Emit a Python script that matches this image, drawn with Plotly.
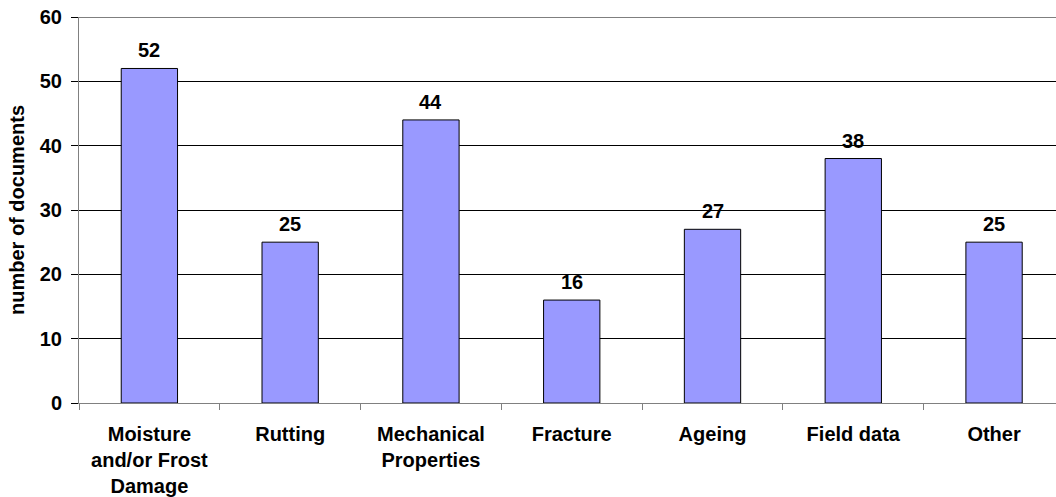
import plotly.graph_objects as go

# categories and counts
categories = ["Moisture<br>and/or Frost<br>Damage", "Rutting", "Mechanical<br>Properties",
              "Fracture", "Ageing", "Field data", "Other"]
counts = [52, 25, 44, 16, 27, 38, 25]
y_ticks = [0, 10, 20, 30, 40, 50, 60]

font_bold = dict(family="Liberation Sans, Arial", size=20, color="black")

fig = go.Figure()
fig.add_trace(go.Bar(
    x=categories, y=counts,
    marker=dict(color="#9999FF", line=dict(color="black", width=1)),
    width=0.4,
))

# value labels above bars
for c, v in zip(categories, counts):
    fig.add_annotation(x=c, y=v, text="<b>%d</b>" % v, showarrow=False,
                       yanchor="bottom", yshift=5, font=font_bold)

# top gridline (plotly skips the grid line at the range edge)
fig.add_shape(type="line", xref="paper", x0=0, x1=1, yref="y",
              y0=y_ticks[-1], y1=y_ticks[-1], line=dict(color="black", width=1))

fig.update_layout(
    width=1056, height=497,
    margin=dict(l=79, r=0, t=17, b=94),
    plot_bgcolor="white", paper_bgcolor="white",
    showlegend=False,
    font=font_bold,
)
fig.update_xaxes(
    range=[-0.5, 6.44], automargin=False,
    tickmode="array", tickvals=categories,
    ticktext=["<b>%s</b>" % c for c in categories],
    tickson="boundaries", ticks="outside", ticklen=6, tickcolor="#808080",
    showline=True, linecolor="#808080", linewidth=1,
    showgrid=False, tickfont=font_bold, ticklabelstandoff=13,
)
fig.update_yaxes(
    range=[0, 60], automargin=False, tickmode="array", tickvals=y_ticks,
    ticktext=["<b>%d</b>" % t for t in y_ticks],
    ticks="outside", ticklen=7, tickcolor="black",
    showline=True, linecolor="#808080", linewidth=1,
    showgrid=True, gridcolor="black", gridwidth=1,
    zeroline=False, tickfont=font_bold, ticklabelstandoff=5,
    ticklabeloverflow="allow",
    title=dict(text="<b>number of documents</b>", font=font_bold, standoff=9),
)

# drop the default 8px body margin so the figure sits at the page corner
fig.write_html("out.html", config={"displayModeBar": False},
               post_script="document.body.style.margin='0';")
